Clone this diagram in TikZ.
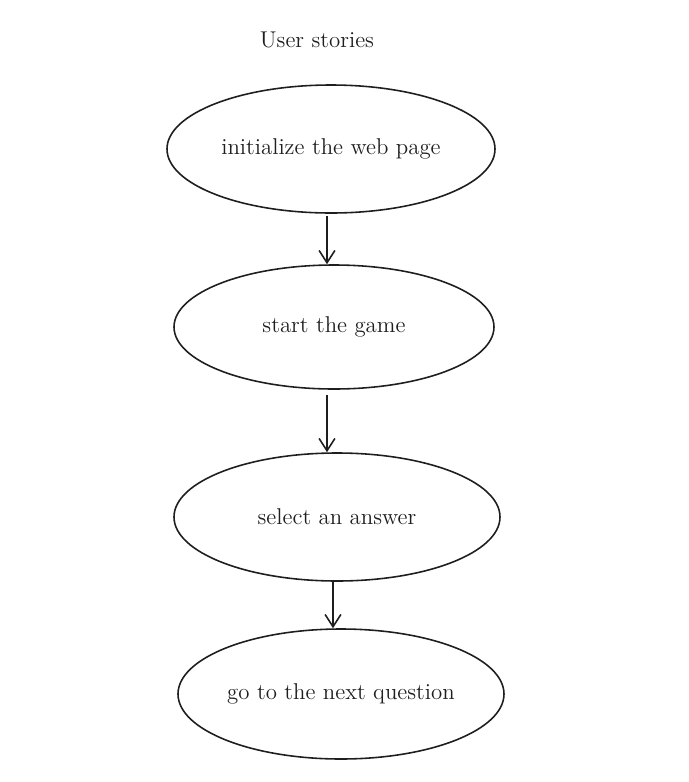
\documentclass[tikz,border=0pt]{standalone}
\usetikzlibrary{shapes.geometric,arrows.meta}
\definecolor{ink}{HTML}{1E1E1E}
\tikzset{
  story/.style={draw=ink, line width=0.9pt, ellipse, inner sep=0pt},
  flow/.style={draw=ink, line width=0.9pt, -{Straight Barb[length=7pt,width=9pt]}}
}
\begin{document}
\begin{tikzpicture}[x=0.02cm, y=-0.02cm, font=\fontsize{13}{15}\selectfont, text=ink]
        \useasboundingbox (0,0) rectangle (689,782);

        % Titulo
        \node (title) at (317,40) {User stories};

        % Historias
        \node[story, minimum width=328*0.02cm, minimum height=128*0.02cm] (init) at (331,149) {initialize the web page};
        \node[story, minimum width=320*0.02cm, minimum height=124*0.02cm] (start) at (334,327) {start the game};
        \node[story, minimum width=326*0.02cm, minimum height=128*0.02cm] (select) at (337,517) {select an answer};
        \node[story, minimum width=326*0.02cm, minimum height=130*0.02cm] (next) at (341,694) {go to the next question};

        % Flechas (verticales)
        \coordinate (a1) at (327,216);
        \coordinate (a2) at (327,395);
        \coordinate (a3) at (333,582);
        \draw[flow] (a1) -- (a1 |- start.north);
        \draw[flow] (a2) -- (a2 |- select.north);
        \draw[flow] (a3) -- (a3 |- next.north);
    \end{tikzpicture}
\end{document}
